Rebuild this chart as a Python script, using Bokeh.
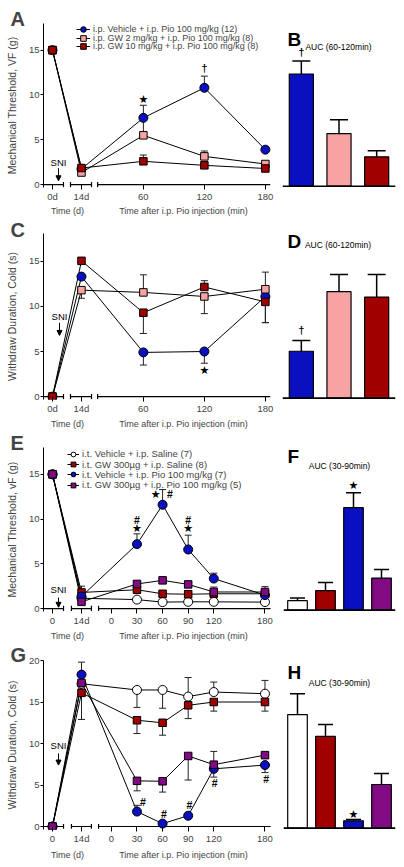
import numpy as np
from bokeh.plotting import figure
from bokeh.layouts import row, column
from bokeh.models import (Range1d, FactorRange, FixedTicker, CustomJSTickFormatter, LinearAxis,
                          Label, Arrow, NormalHead, Legend, LegendItem)
from bokeh.core.properties import value
from bokeh.embed import file_html
from bokeh.resources import INLINE

FONT = "Liberation Sans"
SYM_FONT = "DejaVu Sans"
BLUE = "#0a0fc0"
PINK = "#f8a3a3"
DRED = "#a00000"
PURPLE = "#820a82"
WHITE = "#ffffff"

# ------------------------------------------------------------------ data
# Panels A / C (time points: 0d, 14d, then 60, 120, 180 min after Pio)
AC_DAYS = ["0d", "14d"]
AC_MINS = [60, 120, 180]
AC_GROUPS = ["i.p. Vehicle + i.p. Pio 100 mg/kg (12)",
             "i.p. GW 2 mg/kg + i.p. Pio 100 mg/kg (8)",
             "i.p. GW 10 mg/kg + i.p. Pio 100 mg/kg (8)"]
A_VEH = [15, 1.75, 7.45, 10.8, 3.9]
A_VEH_ERR = [0, 0, 1.4, 1.3, 0.35]
A_GW2 = [15, 1.35, 5.5, 3.15, 2.3]
A_GW2_ERR = [0, 0, 1.8, 0.6, 0.2]
A_GW10 = [15, 1.85, 2.6, 2.15, 1.8]
A_GW10_ERR = [0, 0, 0.7, 0.2, 0.15]
A_SIG = [(60, 9.45, "★"), (120, 13.05, "†")]

C_VEH = [0, 13.3, 4.9, 5.0, 11.1]
C_VEH_ERR = [0, 0, -1.4, -1.3, -2.9]
C_GW2 = [0, 11.8, 11.55, 11.1, 11.9]
C_GW2_ERR = [0, -0.9, 1.95, -1.9, 1.9]
C_GW10 = [0, 15.05, 9.3, 12.15, 10.5]
C_GW10_ERR = [0, 0, -2.3, 0.7, -2.3]
C_SIG = [(120, 2.9, "★")]

AUC_AC_GROUPS = ["Veh+Pio", "GW2+Pio", "GW10+Pio"]
B_AUC = [13.0, 6.1, 3.4]
B_AUC_ERR = [1.5, 1.6, 0.7]
B_SIG = ["†", "", ""]
D_AUC = [5.2, 11.8, 11.2]
D_AUC_ERR = [1.2, 1.9, 2.5]
D_SIG = ["†", "", ""]

# Panels E / G (time points: 0, 14d, then 30..180 min after Pio)
EG_DAYS = ["0", "14d"]
EG_MINS = [30, 60, 90, 120, 180]
EG_TICK_MINS = [0, 30, 60, 90, 120, 180]
EG_GROUPS = ["i.t. Vehicle + i.p. Saline (7)",
             "i.t. GW 300µg + i.p. Saline (8)",
             "i.t. Vehicle + i.p. Pio 100 mg/kg (7)",
             "i.t. GW 300µg + i.p. Pio 100 mg/kg (5)"]
E_VEH_SAL = [15, 1.15, 1.0, 0.72, 0.75, 0.75, 0.72]
E_VEH_SAL_ERR = [0, 0, 0.2, 0, 0, 0, 0]
E_GW_SAL = [15, 1.8, 2.1, 1.65, 1.6, 1.65, 1.65]
E_GW_SAL_ERR = [0, 0.7, 0.4, 0.35, 0.3, 0.3, 0.3]
E_VEH_PIO = [15, 1.35, 7.2, 11.6, 6.6, 3.35, 1.5]
E_VEH_PIO_ERR = [0, 0, 1.15, 1.7, 1.6, 0.6, 0.2]
E_GW_PIO = [15, 0.75, 2.75, 3.15, 2.7, 1.85, 1.85]
E_GW_PIO_ERR = [0, 0, 0.3, 0.3, 0.2, 0.55, 0.6]
E_SIG = [(30, 8.9, "★"), (30, 9.95, "#"), (52, 12.8, "★"), (68.5, 12.8, "#"),
         (90, 8.9, "★"), (90, 9.95, "#")]

G_VEH_SAL = [0, 17.2, 16.45, 16.45, 15.65, 16.2, 16.0]
G_VEH_SAL_ERR = [0, 0, -2.1, -2.2, 2.3, 1.2, 1.6]
G_GW_SAL = [0, 16.1, 12.8, 12.5, 14.6, 15.0, 15.0]
G_GW_SAL_ERR = [0, 0, -1.6, -1.5, -1.6, -1.1, -1.1]
G_VEH_PIO = [0, 18.3, 1.8, 0.35, 1.3, 6.95, 7.4]
G_VEH_PIO_ERR = [0, 1.5, 0.75, 0, 0, -1.0, -0.9]
G_GW_PIO = [0, 17.3, 5.5, 5.45, 8.5, 7.45, 8.6]
G_GW_PIO_ERR = [0, -4.4, -1.2, -1.3, -2.9, 1.6, 0.3]
G_SIG = [(37, 2.9, "#"), (61.5, 1.5, "#"), (91.5, 2.6, "#"), (121, 5.2, "#"), (181.5, 5.7, "#")]

AUC_EG_GROUPS = ["Veh+Sal", "GW+Sal", "Veh+Pio", "GW+Pio"]
F_AUC = [1.07, 2.2, 11.5, 3.6]
F_AUC_ERR = [0.3, 0.9, 1.67, 0.97]
F_SIG = ["", "", "★", ""]
H_AUC = [12.5, 10.1, 0.8, 4.8]
H_AUC_ERR = [2.3, 1.3, 0.15, 1.2]
H_SIG = ["", "", "★", ""]

TIME_LABELS = ["Time (d)", "Time after i.p. Pio injection (min)"]

# ------------------------------------------------------------------ broken time-axis scales
AC_DAY_POS = [0.0, 0.475]
def ac_min_pos(t):
    return 0.49 + t / 60.0
EG_DAY_POS = [0.0, 1.133]
def eg_min_pos(t):
    return 2.3 + t / 30.0

AC_X = AC_DAY_POS + [ac_min_pos(t) for t in AC_MINS]
AC_TICKS = AC_X[:]
AC_TICK_LABELS = AC_DAYS + [str(t) for t in AC_MINS]
EG_X = EG_DAY_POS + [eg_min_pos(t) for t in EG_MINS]
EG_TICKS = EG_DAY_POS + [eg_min_pos(t) for t in EG_TICK_MINS]
EG_TICK_LABELS = EG_DAYS + [str(t) for t in EG_TICK_MINS]

AC_TITLE_POS = [0.246, 2.148]
EG_TITLE_POS = [0.586, 5.117]

LOOKUP_JS = """
    let best = 0;
    for (let i = 0; i < pos.length; i++) {
        if (Math.abs(pos[i] - tick) < Math.abs(pos[best] - tick)) best = i;
    }
    return labels[best];
"""


def line_panel(w, h, bl, br, bt, bb, xr, yr, yticks, ylabel, ticks, tick_labels,
               breaks, caps, title_pos, title_standoff, letter, letter_standoff):
    p = figure(width=w, height=h, x_range=Range1d(*xr), y_range=Range1d(*yr),
               output_backend="svg", toolbar_location=None,
               min_border_left=bl, min_border_right=br, min_border_top=bt, min_border_bottom=bb)
    p.grid.visible = False
    p.outline_line_color = None
    # panel letter as the figure title, pushed to the top-left corner
    p.title.text = letter
    p.title.text_font = FONT
    p.title.text_font_size = "20px"
    p.title.text_font_style = "bold"
    p.title.align = "left"
    p.title.vertical_align = "bottom"
    p.title.offset = -(bl - 10)
    p.title.standoff = letter_standoff
    yax = p.yaxis[0]
    yax.ticker = FixedTicker(ticks=yticks)
    yax.axis_label = ylabel
    yax.axis_label_text_font = FONT
    yax.axis_label_text_font_size = "10.5px"
    yax.axis_label_text_font_style = "normal"
    yax.axis_label_standoff = 8
    yax.major_label_text_font = FONT
    yax.major_label_text_font_size = "9.5px"
    yax.major_label_standoff = 1
    yax.major_tick_out = 3
    yax.major_tick_in = 0
    yax.minor_tick_line_color = None
    yax.axis_line_color = "black"
    xax = p.xaxis[0]
    xax.ticker = FixedTicker(ticks=ticks)
    xax.formatter = CustomJSTickFormatter(args=dict(pos=ticks, labels=tick_labels), code=LOOKUP_JS)
    xax.axis_line_color = None
    xax.major_tick_in = 3
    xax.major_tick_out = 2
    xax.minor_tick_line_color = None
    xax.major_label_text_font = FONT
    xax.major_label_text_font_size = "9.5px"
    xax.major_label_standoff = 1
    # second row of the x axis: the two time titles
    tax = LinearAxis(ticker=FixedTicker(ticks=title_pos),
                     formatter=CustomJSTickFormatter(args=dict(pos=title_pos, labels=TIME_LABELS),
                                                     code=LOOKUP_JS),
                     axis_line_color=None, major_tick_line_color=None, minor_tick_line_color=None,
                     major_tick_in=0, major_tick_out=0, major_label_standoff=title_standoff,
                     major_label_text_font=FONT, major_label_text_font_size="9px")
    p.add_layout(tax, "below")
    # broken x axis drawn on y = 0
    p.segment(x0=[b[0] for b in breaks], y0=[0] * len(breaks),
              x1=[b[1] for b in breaks], y1=[0] * len(breaks), line_color="black", line_width=1.2)
    p.segment(x0=caps, y0=[-0.28] * len(caps), x1=caps, y1=[0.3] * len(caps),
              line_color="black", line_width=1.2)
    return p


def draw_series(p, xs, series):
    lines = []
    for s in series:
        lines.append(p.line(xs, s["vals"], line_color="black", line_width=1))
    for s in series:
        ex, ey0, ey1 = [], [], []
        for x, v, e in zip(xs, s["vals"], s["errs"]):
            if e != 0:
                ex.append(x); ey0.append(v); ey1.append(v + e)
        if ex:
            p.segment(x0=ex, y0=ey0, x1=ex, y1=ey1, line_color="#222222", line_width=1)
            p.scatter(ex, ey1, marker="dash", size=7, line_color="#222222", line_width=1)
    marks = []
    for s in series:
        size = 9 if s["marker"] == "circle" else 7.5
        marks.append(p.scatter(xs, s["vals"], marker=s["marker"], size=size,
                               fill_color=s["color"], line_color="black", line_width=1))
    return lines, marks


def add_sig(p, xs, ys, texts):
    stars = [(x, y) for x, y, t in zip(xs, ys, texts) if t == "★"]
    others = [(x, y, t) for x, y, t in zip(xs, ys, texts) if t not in ("★", "")]
    if stars:
        p.text(x=[s[0] for s in stars], y=[s[1] for s in stars], text=["★"] * len(stars),
               text_font=value(SYM_FONT), text_font_size="11px",
               text_align="center", text_baseline="middle", text_color="black")
    if others:
        p.text(x=[o[0] for o in others], y=[o[1] for o in others], text=[o[2] for o in others],
               text_font=value(FONT), text_font_size="10.5px", text_font_style="bold",
               text_align="center", text_baseline="middle", text_color="black")


def add_label(p, x, y, text, size, bold=False, align="center"):
    lbl = Label(x=x, y=y, text=text, text_align=align, text_baseline="middle",
                text_color="black", text_font=FONT, text_font_size=size,
                text_font_style="bold" if bold else "normal")
    p.add_layout(lbl)


LEG_DY = 5.5  # empirical correction of the legend anchor (pixels, positive = down)


def legend_row(p, text, renderers, frame, left_x, center_y, size, glyph_w, standoff, item_h=16):
    """A one-line Legend, placed by the page position of its row."""
    fl, fb = frame
    leg = Legend(items=[LegendItem(label=text, renderers=renderers)],
                 location=(left_x - fl, (fb - center_y) - item_h / 2 - LEG_DY),
                 glyph_width=glyph_w, glyph_height=item_h, label_height=item_h, spacing=0,
                 padding=0, margin=0, label_standoff=standoff, label_text_font=FONT,
                 label_text_font_size=size, border_line_color=None, background_fill_alpha=0)
    p.add_layout(leg)


def add_sni(p, x, y_text, y0, y1):
    add_label(p, x, y_text, "SNI", "9.5px")
    p.add_layout(Arrow(end=NormalHead(size=5, fill_color="black", line_color="black"),
                       x_start=x, y_start=y0, x_end=x, y_end=y1,
                       line_color="black", line_width=1))


def bar_panel(w, h, bl, br, bb, yr, factors, vals, errs, colors, bar_w, cap):
    p = figure(width=w, height=h, x_range=FactorRange(factors=factors, range_padding=0),
               y_range=Range1d(*yr), output_backend="svg", toolbar_location=None,
               min_border_left=bl, min_border_right=br, min_border_top=0, min_border_bottom=bb,
               x_axis_location=None, y_axis_location=None)
    p.grid.visible = False
    p.outline_line_color = None
    tops = [v + e for v, e in zip(vals, errs)]
    p.segment(x0=factors, y0=vals, x1=factors, y1=tops, line_color="black", line_width=1.5)
    p.scatter(factors, tops, marker="dash", size=cap, line_color="black", line_width=1.5)
    p.vbar(x=factors, top=vals, bottom=0, width=bar_w, fill_color=colors, line_color="black",
           line_width=1.2)
    # baseline
    p.segment(x0=[0], y0=[0], x1=[len(factors)], y1=[0], line_color="black", line_width=1.6)
    return p


AC_BREAKS = [(-0.1475, 0.18), (0.295, 0.64), (0.74, 3.57)]
AC_CAPS = [0.18, 0.295, 0.64, 0.74]
EG_BREAKS = [(-0.352, 0.43), (0.74, 1.52), (1.8, 8.52)]
EG_CAPS = [0.43, 0.74, 1.52, 1.8]

# frame (left, bottom) of the legend-bearing panels in page pixels
FR_A = (43, 192)
FR_E = (43, 616)

# ------------------------------------------------------------------ A  (page rows: 0-218)
pA = line_panel(280, 218, 43, 8, 23, 26, (-0.1475, 3.607), (-0.32, 17.97), [0, 5, 10, 15],
                "Mechanical Threshold, VF (g)", AC_TICKS, AC_TICK_LABELS, AC_BREAKS, AC_CAPS,
                AC_TITLE_POS, 1, "A", -12)
A_SERIES = [dict(vals=A_VEH, errs=A_VEH_ERR, marker="circle", color=BLUE),
            dict(vals=A_GW2, errs=A_GW2_ERR, marker="square", color=PINK),
            dict(vals=A_GW10, errs=A_GW10_ERR, marker="square", color=DRED)]
la, ma = draw_series(pA, AC_X, A_SERIES)
add_sig(pA, [ac_min_pos(t) for t, _, _ in A_SIG], [v for _, v, _ in A_SIG], [s for _, _, s in A_SIG])
for i, cy in enumerate([28.5, 37, 45.5]):
    legend_row(pA, AC_GROUPS[i], [la[i], ma[i]], FR_A, 76, cy, "9px", 14, 3)
add_sni(pA, 0.098, 2.49, 1.84, 0.43)

# ------------------------------------------------------------------ B
pB = bar_panel(124, 218, 2, 9, 28, (-0.15, 18.85), AUC_AC_GROUPS, B_AUC, B_AUC_ERR,
               [BLUE, PINK, DRED], 0.64, 18)
add_label(pB, 0.133, 17.05, "B", "19px", bold=True, align="left")
add_label(pB, 1.487, 16.1, "AUC (60-120min)", "8.5px")
add_sig(pB, AUC_AC_GROUPS, [v + e + 1.1 for v, e in zip(B_AUC, B_AUC_ERR)], B_SIG)

# ------------------------------------------------------------------ C  (page rows: 218-431)
pC = line_panel(280, 213, 43, 8, 15, 27, (-0.1475, 3.607), (-0.32, 18.08), [0, 5, 10, 15],
                "Withdraw Duration, Cold (s)", AC_TICKS, AC_TICK_LABELS, AC_BREAKS, AC_CAPS,
                AC_TITLE_POS, 2, "C", -15)
C_SERIES = [dict(vals=C_VEH, errs=C_VEH_ERR, marker="circle", color=BLUE),
            dict(vals=C_GW2, errs=C_GW2_ERR, marker="square", color=PINK),
            dict(vals=C_GW10, errs=C_GW10_ERR, marker="square", color=DRED)]
draw_series(pC, AC_X, C_SERIES)
add_sig(pC, [ac_min_pos(t) for t, _, _ in C_SIG], [v for _, v, _ in C_SIG], [s for _, _, s in C_SIG])
add_sni(pC, 0.115, 8.83, 8.18, 6.78)

# ------------------------------------------------------------------ D
pD = bar_panel(124, 213, 2, 9, 29, (-0.15, 18.25), AUC_AC_GROUPS, D_AUC, D_AUC_ERR,
               [BLUE, PINK, DRED], 0.64, 18)
add_label(pD, 0.133, 17.35, "D", "19px", bold=True, align="left")
add_label(pD, 1.473, 17.0, "AUC (60-120min)", "8.5px")
add_sig(pD, AUC_AC_GROUPS, [v + e + 1.1 for v, e in zip(D_AUC, D_AUC_ERR)], D_SIG)

# ------------------------------------------------------------------ E  (page rows: 431-643)
pE = line_panel(280, 212, 43, 8, 16, 27, (-0.352, 8.594), (-0.33, 18.0), [0, 5, 10, 15],
                "Mechanical Threshold, vF (g)", EG_TICKS, EG_TICK_LABELS, EG_BREAKS, EG_CAPS,
                EG_TITLE_POS, 2, "E", -13)
E_SERIES = [dict(vals=E_VEH_SAL, errs=E_VEH_SAL_ERR, marker="circle", color=WHITE),
            dict(vals=E_GW_SAL, errs=E_GW_SAL_ERR, marker="square", color=DRED),
            dict(vals=E_VEH_PIO, errs=E_VEH_PIO_ERR, marker="circle", color=BLUE),
            dict(vals=E_GW_PIO, errs=E_GW_PIO_ERR, marker="square", color=PURPLE)]
le, me = draw_series(pE, EG_X, E_SERIES)
add_sig(pE, [eg_min_pos(t) for t, _, _ in E_SIG], [v for _, v, _ in E_SIG], [s for _, _, s in E_SIG])
for i, cy in enumerate([453, 463.5, 473.5, 484]):
    legend_row(pE, EG_GROUPS[i], [le[i], me[i]], FR_E, 67, cy, "9.5px", 12, 3)
add_sni(pE, 0.234, 2.17, 1.23, 0.14)

# ------------------------------------------------------------------ F
pF = bar_panel(124, 212, 3, 9, 28, (-0.15, 18.25), AUC_EG_GROUPS, F_AUC, F_AUC_ERR,
               [WHITE, DRED, BLUE, PURPLE], 0.7, 15)
add_label(pF, 0.143, 17.2, "F", "19px", bold=True, align="left")
add_label(pF, 2.0, 16.15, "AUC (30-90min)", "8.5px")
add_sig(pF, AUC_EG_GROUPS, [v + e + 0.8 for v, e in zip(F_AUC, F_AUC_ERR)], F_SIG)

# ------------------------------------------------------------------ G  (page rows: 643-867)
pG = line_panel(280, 224, 43, 8, 17, 37, (-0.352, 8.594), (-0.36, 20.0), [0, 5, 10, 15, 20],
                "Withdraw Duration, Cold (s)", EG_TICKS, EG_TICK_LABELS, EG_BREAKS, EG_CAPS,
                EG_TITLE_POS, 3, "G", -11)
G_SERIES = [dict(vals=G_VEH_SAL, errs=G_VEH_SAL_ERR, marker="circle", color=WHITE),
            dict(vals=G_GW_SAL, errs=G_GW_SAL_ERR, marker="square", color=DRED),
            dict(vals=G_VEH_PIO, errs=G_VEH_PIO_ERR, marker="circle", color=BLUE),
            dict(vals=G_GW_PIO, errs=G_GW_PIO_ERR, marker="square", color=PURPLE)]
draw_series(pG, EG_X, G_SERIES)
add_sig(pG, [eg_min_pos(t) for t, _, _ in G_SIG], [v for _, v, _ in G_SIG], [s for _, _, s in G_SIG])
add_sni(pG, 0.234, 9.8, 8.8, 7.4)

# ------------------------------------------------------------------ H
pH = bar_panel(124, 224, 3, 9, 38, (-0.15, 18.45), AUC_EG_GROUPS, H_AUC, H_AUC_ERR,
               [WHITE, DRED, BLUE, PURPLE], 0.7, 15)
add_label(pH, 0.143, 17.15, "H", "19px", bold=True, align="left")
add_label(pH, 2.0, 16.0, "AUC (30-90min)", "8.5px")
add_sig(pH, AUC_EG_GROUPS, [v + e + 0.6 for v, e in zip(H_AUC, H_AUC_ERR)], H_SIG)

page = column(row(pA, pB), row(pC, pD), row(pE, pF), row(pG, pH))

open("out.html", "w").write(file_html(page, INLINE))
